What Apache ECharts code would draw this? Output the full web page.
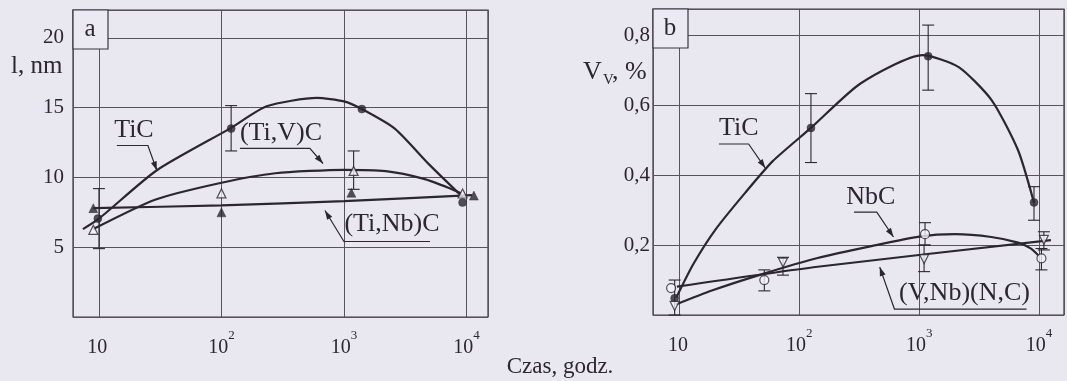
<!DOCTYPE html>
<html>
<head>
<meta charset="utf-8">
<script src="https://cdn.jsdelivr.net/npm/echarts@6/dist/echarts.min.js"></script>
<style>
  html, body { margin: 0; padding: 0; background: #e9e8f1; }
  #chart { width: 1067px; height: 381px; }
</style>
</head>
<body>
<div id="chart"></div>
<script>
// ---------- Panel a: mean particle size l (nm) vs. time (h) ----------
const tiC_a_points   = [[9.8, 7.05], [120, 13.5], [1400, 14.9], [9300, 8.2]];
const tiVC_a_points  = [[9.0, 6.25], [100, 8.86], [1200, 10.47], [9300, 8.85]];
const tiNbC_a_points = [[9.0, 7.8], [100, 7.5], [1150, 8.9], [11500, 8.7]];
const tiC_a_errors   = [[10, 4.9, 9.2], [120, 11.9, 15.15]];
const tiVC_a_errors  = [[1200, 9.15, 11.9]];
const tiC_a_curve    = [[7.4, 6.3], [10, 7.05], [29.5, 10.5], [117, 13.5], [234, 15.1], [600, 15.7],
                        [1000, 15.45], [1400, 14.9], [2600, 13.5], [5000, 10.9], [9300, 8.6]];
const tiVC_a_curve   = [[9.0, 6.3], [28.7, 8.4], [98, 9.6], [275, 10.3], [1000, 10.55], [2200, 10.45],
                        [4500, 9.9], [7200, 9.25], [9100, 8.85]];
const tiNbC_a_curve  = [[9.0, 7.8], [100, 8.0], [1000, 8.3], [11100, 8.74]];

// ---------- Panel b: volume fraction Vv (%) vs. time (h) ----------
const tiC_b_points   = [[9.1, 0.048], [125, 0.535], [1190, 0.74], [9100, 0.322]];
const nbC_b_points   = [[8.5, 0.077], [51, 0.1], [1120, 0.231], [10500, 0.162]];
const vnb_b_points   = [[9.1, 0.026], [73, 0.15], [1100, 0.16], [11000, 0.215]];
const tiC_b_errors   = [[9.1, 0.0, 0.1], [125, 0.436, 0.633], [1190, 0.643, 0.829], [9100, 0.271, 0.367]];
const nbC_b_errors   = [[51, 0.069, 0.129], [1120, 0.2, 0.264], [10500, 0.129, 0.19]];
const vnb_b_errors   = [[73, 0.114, 0.165], [1100, 0.124, 0.2], [11000, 0.186, 0.238]];
const tiC_b_curve    = [[9.4, 0.05], [13, 0.145], [20, 0.245], [35.4, 0.35], [60, 0.44], [125, 0.535],
                        [324, 0.662], [1070, 0.743], [2140, 0.709], [4040, 0.614], [6700, 0.471], [9100, 0.321]];
const nbC_b_curve    = [[9.3, 0.03], [18.6, 0.07], [49, 0.117], [142, 0.163], [400, 0.197], [1000, 0.224],
                        [2000, 0.231], [4000, 0.223], [6700, 0.207], [8600, 0.19], [10000, 0.169]];
const vnb_b_curve    = [[9.5, 0.081], [142, 0.138], [12600, 0.214]];

// ---------- Axis ticks ----------
const xTickPowers = [1, 2, 3, 4];
const yTicksA = [5, 10, 15, 20];
const yTicksB = [0.2, 0.4, 0.6, 0.8];

// ---------- Curve labels: text anchor and leader path (last point = arrow tip), data coords ----------
const labelsA = [
  { text: 'TiC',      at: [19.3, 13.37], path: [[14.0, 12.29], [25.1, 12.29], [29.7, 10.5]] },
  { text: '(Ti,V)C',  at: [306, 13.15],  path: [[141.6, 12.08], [527, 12.08], [675, 11.0]] },
  { text: '(Ti,Nb)C', at: [2466, 6.63],  path: [[5040, 5.41], [1000, 5.41], [700, 7.63]] }
];
const labelsB = [
  { text: 'TiC',         at: [31.2, 0.534], path: [[21.3, 0.489], [37.7, 0.489], [52, 0.42]] },
  { text: 'NbC',         at: [395, 0.337],  path: [[286, 0.294], [443, 0.294], [611, 0.223]] },
  { text: '(V,Nb)(N,C)', at: [2393, 0.063], path: [[7890, 0.017], [622, 0.017], [469, 0.137]] }
];

const INK = '#2b2630';
const GRIDC = '#57525c';
const SERIF = '"Liberation Serif", "DejaVu Serif", serif';

const xRangeA = [6.14, 15000];
const xRangeB = [6.0, 16200];
const yRangeA = [0, 22];
const yRangeB = [0, 0.875];

function powerLabel(v) {
  const e = Math.log10(v);
  const r = Math.round(e);
  if (Math.abs(e - r) > 1e-6 || xTickPowers.indexOf(r) < 0) return '';
  return r === 1 ? '{b|10}{s|\u00a0}' : '{b|10}{s|' + r + '}';
}

function xAxisCfg(gridIndex, range) {
  return {
    type: 'log', logBase: 10, gridIndex, min: range[0], max: range[1],
    axisLine: { show: false }, axisTick: { show: false },
    splitLine: { show: true, lineStyle: { color: GRIDC, width: 1 } },
    axisLabel: {
      formatter: powerLabel, margin: 12, showMinLabel: true, showMaxLabel: true,
      color: INK, fontFamily: SERIF,
      rich: {
        b: { fontSize: 20, fontFamily: SERIF, color: INK },
        s: { fontSize: 13, fontFamily: SERIF, color: INK, padding: [0, 0, 24, 0] }
      }
    }
  };
}

function yAxisCfg(gridIndex, range, interval, ticks, fmt, margin) {
  return {
    type: 'value', gridIndex, min: range[0], max: range[1], interval,
    axisLine: { show: false }, axisTick: { show: false },
    splitLine: { show: true, lineStyle: { color: GRIDC, width: 1 } },
    axisLabel: {
      margin, color: INK, fontFamily: SERIF, fontSize: 21,
      formatter: v => ticks.some(t => Math.abs(t - v) < 1e-9) ? fmt(v) : ''
    }
  };
}

function errorSeries(name, xi, yi, data) {
  return {
    name, type: 'custom', xAxisIndex: xi, yAxisIndex: yi, data, z: 3,
    encode: { x: 0, y: [1, 2] },
    renderItem(params, api) {
      const x = api.value(0);
      const lo = api.coord([x, api.value(1)]);
      const hi = api.coord([x, api.value(2)]);
      const w = 6;
      const st = { stroke: INK, lineWidth: 1.1 };
      return {
        type: 'group',
        children: [
          { type: 'line', shape: { x1: lo[0], y1: lo[1], x2: hi[0], y2: hi[1] }, style: st },
          { type: 'line', shape: { x1: lo[0] - w, y1: lo[1], x2: lo[0] + w, y2: lo[1] }, style: st },
          { type: 'line', shape: { x1: hi[0] - w, y1: hi[1], x2: hi[0] + w, y2: hi[1] }, style: st }
        ]
      };
    }
  };
}

function curveSeries(name, xi, yi, data) {
  return {
    name, type: 'line', xAxisIndex: xi, yAxisIndex: yi, data, smooth: 0.22,
    showSymbol: false, silent: true, z: 2,
    lineStyle: { color: INK, width: 2.2 }
  };
}

function markerSeries(name, xi, yi, data, symbol, size, open, rotate) {
  return {
    name, type: 'scatter', xAxisIndex: xi, yAxisIndex: yi, data, symbol, symbolSize: size,
    symbolRotate: rotate || 0, z: 5,
    itemStyle: open ? { color: '#f2f1f7', borderColor: INK, borderWidth: 1.2 } : { color: INK, borderColor: INK, borderWidth: 0.5 }
  };
}

const option = {
  backgroundColor: '#e9e8f1',
  animation: false,
  grid: [
    { left: 73, top: 10, width: 415, height: 307, show: true, borderColor: '#3a3540', borderWidth: 1.2, backgroundColor: 'transparent' },
    { left: 653, top: 9, width: 417, height: 306, show: true, borderColor: '#3a3540', borderWidth: 1.2, backgroundColor: 'transparent' }
  ],
  xAxis: [xAxisCfg(0, xRangeA), xAxisCfg(1, xRangeB)],
  yAxis: [
    yAxisCfg(0, yRangeA, 5, yTicksA, v => String(v), 9),
    yAxisCfg(1, yRangeB, 0.2, yTicksB, v => v.toFixed(1).replace('.', ','), 3)
  ],
  series: [
    curveSeries('TiC curve a', 0, 0, tiC_a_curve),
    curveSeries('(Ti,V)C curve a', 0, 0, tiVC_a_curve),
    curveSeries('(Ti,Nb)C curve a', 0, 0, tiNbC_a_curve),
    errorSeries('TiC err a', 0, 0, tiC_a_errors),
    errorSeries('(Ti,V)C err a', 0, 0, tiVC_a_errors),
    markerSeries('TiC a', 0, 0, tiC_a_points, 'circle', 8, false),
    markerSeries('(Ti,V)C a', 0, 0, tiVC_a_points, 'triangle', 9, true),
    markerSeries('(Ti,Nb)C a', 0, 0, tiNbC_a_points, 'triangle', 9, false),

    curveSeries('TiC curve b', 1, 1, tiC_b_curve),
    curveSeries('NbC curve b', 1, 1, nbC_b_curve),
    curveSeries('(V,Nb)(N,C) curve b', 1, 1, vnb_b_curve),
    errorSeries('TiC err b', 1, 1, tiC_b_errors),
    errorSeries('NbC err b', 1, 1, nbC_b_errors),
    errorSeries('(V,Nb)(N,C) err b', 1, 1, vnb_b_errors),
    markerSeries('TiC b', 1, 1, tiC_b_points, 'circle', 8, false),
    markerSeries('NbC b', 1, 1, nbC_b_points, 'circle', 9, true),
    markerSeries('(V,Nb)(N,C) b', 1, 1, vnb_b_points, 'triangle', 9, true, 180)
  ]
};

const chart = echarts.init(document.getElementById('chart'), null, { renderer: 'canvas' });
chart.setOption(option);

// ---------- Overlays: panel letters, axis titles, curve labels with arrows ----------
const toPx = (g, p) => chart.convertToPixel({ gridIndex: g }, p);

function textEl(text, x, y, size, align) {
  return {
    type: 'text', x, y, z: 100,
    style: {
      text, font: size + 'px ' + SERIF, fill: INK,
      textAlign: align || 'center', textVerticalAlign: 'middle',
      align: align || 'center', verticalAlign: 'middle'
    }
  };
}

function labelEls(g, lab) {
  const c = toPx(g, lab.at);
  const pts = lab.path.map(p => toPx(g, p));
  const els = [textEl(lab.text, c[0], c[1], 26)];
  els.push({ type: 'polyline', z: 100, shape: { points: pts }, style: { stroke: INK, lineWidth: 1.2, fill: null } });
  const tip = pts[pts.length - 1], prev = pts[pts.length - 2];
  const dx = tip[0] - prev[0], dy = tip[1] - prev[1];
  const len = Math.hypot(dx, dy), ux = dx / len, uy = dy / len;
  const L = 9, W = 3;
  const bx = tip[0] - ux * L, by = tip[1] - uy * L;
  els.push({
    type: 'polygon', z: 100,
    shape: { points: [tip, [bx - uy * W, by + ux * W], [bx + uy * W, by - ux * W]] },
    style: { fill: INK }
  });
  return els;
}

function panelBox(g, xr, yr, letter) {
  const p = toPx(g, [xr[0], yr[1]]);
  return [
    { type: 'rect', z: 90, shape: { x: p[0], y: p[1], width: 35, height: 39 },
      style: { fill: '#ebeaf2', stroke: '#3a3540', lineWidth: 1.2 } },
    textEl(letter, p[0] + 17, p[1] + 19, 25)
  ];
}

let graphics = [];
graphics = graphics.concat(panelBox(0, xRangeA, yRangeA, 'a'));
graphics = graphics.concat(panelBox(1, xRangeB, yRangeB, 'b'));
labelsA.forEach(l => { graphics = graphics.concat(labelEls(0, l)); });
labelsB.forEach(l => { graphics = graphics.concat(labelEls(1, l)); });

// Axis titles
graphics.push(textEl('l, nm', 11, 66, 25, 'left'));
graphics.push(textEl('V', 583, 72, 26, 'left'));
graphics.push(textEl('V', 603, 80, 15, 'left'));
graphics.push(textEl(', %', 612, 72, 26, 'left'));
graphics.push(textEl('Czas, godz.', 560, 367, 23));

chart.setOption({ graphic: { elements: graphics } });
</script>
</body>
</html>
